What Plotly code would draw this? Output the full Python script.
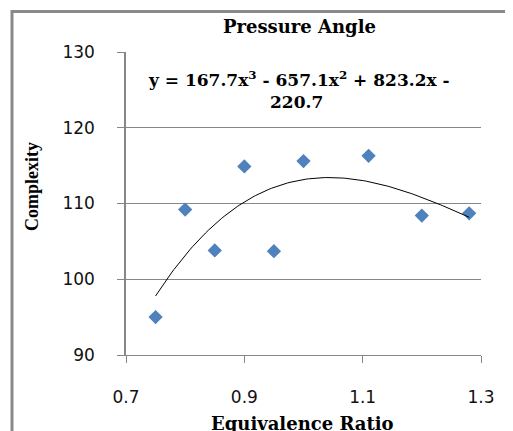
import numpy as np
import plotly.graph_objects as go

# Data
equivalence_ratio = [0.75, 0.80, 0.85, 0.90, 0.95, 1.00, 1.11, 1.20, 1.28]
complexity = [95.0, 109.2, 103.8, 114.9, 103.7, 115.6, 116.3, 108.4, 108.7]

x_ticks = [0.7, 0.9, 1.1, 1.3]
x_tick_labels = ["0.7", "0.9", "1.1", "1.3"]
y_ticks = [90, 100, 110, 120, 130]
y_tick_labels = ["90", "100", "110", "120", "130"]

title_text = "Pressure Angle"
eq_line1 = "y = 167.7x<sup>3</sup> - 657.1x<sup>2</sup> + 823.2x -"
eq_line2 = "220.7"
x_title = "Equivalence Ratio"
y_title = "Complexity"

# Cubic trendline fitted to the data (as the spreadsheet did)
coefs = np.polyfit(equivalence_ratio, complexity, 3)
trend_x = np.linspace(min(equivalence_ratio), max(equivalence_ratio), 120)
trend_y = np.polyval(coefs, trend_x)

# page body has an 8px margin; lay out in window pixels
OFF = 8
WIN_W, WIN_H = 513, 431
W, H = WIN_W - OFF, WIN_H - OFF
PL, PR, PT, PB = 126, 481, 52, 355   # plot area in window pixels


def fx(xp):   # window px -> figure paper fraction (x)
    return (xp - OFF) / W


def fy(yp):   # window px -> figure paper fraction (y, from bottom)
    return (WIN_H - yp) / H


fig = go.Figure()
fig.add_trace(go.Scatter(
    x=equivalence_ratio, y=complexity, mode="markers",
    marker=dict(symbol="diamond", size=11, color="#4F81BD"),
    showlegend=False, hoverinfo="skip"))
fig.add_trace(go.Scatter(
    x=trend_x, y=trend_y, mode="lines",
    line=dict(color="black", width=1),
    showlegend=False, hoverinfo="skip"))

# Outer chart-area frame (left and top edges visible), on a full-figure overlay axis
frame_col = "#8a8a8a"
fig.add_trace(go.Scatter(
    x=[12, 12, 520], y=[440, 11.5, 11.5], xaxis="x2", yaxis="y2",
    mode="lines", line=dict(color=frame_col, width=3),
    showlegend=False, hoverinfo="skip", cliponaxis=False))

grid_col = "#878787"
fig.update_layout(
    width=W, height=H,
    margin=dict(l=0, r=0, t=0, b=0, pad=0),
    paper_bgcolor="white", plot_bgcolor="rgba(0,0,0,0)",
    xaxis=dict(domain=[fx(PL), fx(PR)], range=[0.7, 1.3],
               tickvals=x_ticks, ticktext=x_tick_labels,
               showgrid=False, zeroline=False, showline=True,
               linecolor=grid_col, linewidth=1,
               ticks="outside", ticklen=7, tickcolor=grid_col, tickwidth=1,
               ticklabelstandoff=20, automargin=False,
               tickfont=dict(family="DejaVu Sans", size=17, color="#111111")),
    yaxis=dict(domain=[fy(PB), fy(PT)], range=[90, 130],
               tickvals=y_ticks, ticktext=y_tick_labels,
               showgrid=True, gridcolor=grid_col, gridwidth=1,
               zeroline=False, showline=True,
               linecolor=grid_col, linewidth=1.5,
               ticks="outside", ticklen=7, tickcolor=grid_col, tickwidth=1,
               ticklabelstandoff=19, automargin=False,
               tickfont=dict(family="DejaVu Sans", size=17, color="#111111")),
    xaxis2=dict(domain=[0, 1], range=[OFF, WIN_W], anchor="y2", visible=False,
                fixedrange=True),
    yaxis2=dict(domain=[0, 1], range=[WIN_H, OFF], anchor="x2", visible=False,
                fixedrange=True),
)

serif_bold = dict(family="DejaVu Serif", size=18, color="black")
fig.add_annotation(text="<b>%s</b>" % title_text, xref="paper", yref="paper",
                   x=fx(299), y=fy(27), xanchor="center", yanchor="middle",
                   showarrow=False, font=serif_bold)
fig.add_annotation(text="<b>%s</b>" % eq_line1, xref="paper", yref="paper",
                   x=fx(298.5), y=fy(79), xanchor="center", yanchor="middle",
                   showarrow=False, font=dict(family="DejaVu Serif", size=17, color="black"))
fig.add_annotation(text="<b>%s</b>" % eq_line2, xref="paper", yref="paper",
                   x=fx(296.5), y=fy(102), xanchor="center", yanchor="middle",
                   showarrow=False, font=dict(family="DejaVu Serif", size=17, color="black"))
fig.add_annotation(text="<b>%s</b>" % x_title, xref="paper", yref="paper",
                   x=fx(302), y=fy(423), xanchor="center", yanchor="middle",
                   showarrow=False, font=serif_bold)
fig.add_annotation(text="<b>%s</b>" % y_title, xref="paper", yref="paper",
                   x=fx(32), y=fy(187), xanchor="center", yanchor="middle",
                   textangle=-90, showarrow=False,
                   font=dict(family="Liberation Serif", size=18, color="black"))

fig.write_html("out.html")
